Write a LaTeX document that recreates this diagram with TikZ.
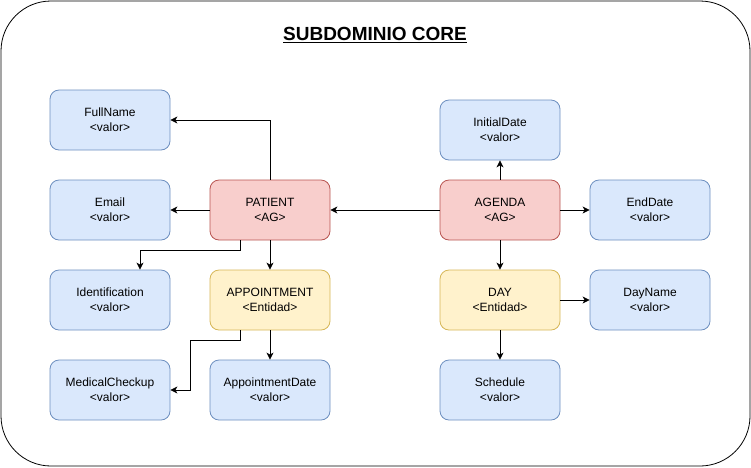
\documentclass[tikz,border=0pt]{standalone}
\usepackage{fontspec}
\setmainfont{Liberation Sans}
\usetikzlibrary{arrows.meta}

\definecolor{valfill}{HTML}{DAE8FC}
\definecolor{valline}{HTML}{6C8EBF}
\definecolor{agfill}{HTML}{F8CECC}
\definecolor{agline}{HTML}{B85450}
\definecolor{entfill}{HTML}{FFF2CC}
\definecolor{entline}{HTML}{D6B656}

\tikzset{
    box/.style = {draw, rounded corners = 9pt, minimum width = 120pt, minimum height = 60pt,
        inner sep = 0pt, align = center, line width = 0.8pt,
        font = \fontsize{12}{15}\selectfont},
    valor/.style = {box, fill = valfill, draw = valline},
    aggregate/.style = {box, fill = agfill, draw = agline},
    entity/.style = {box, fill = entfill, draw = entline},
    link/.style = {-{Stealth[length = 7pt, width = 7pt, inset = 2pt]}, line width = 0.8pt},
}

\begin{document}
\begin{tikzpicture}[x = 1pt, y = -1pt]
    \useasboundingbox (0,0) rectangle (751,467);
    \draw[rounded corners = 50pt, line width = 0.8pt] (1,1) rectangle (750,466);
    \node[font = \fontsize{19}{21}\selectfont\bfseries] (title) at (375,35) {\underline{SUBDOMINIO CORE}};

    % left side
    \node[valor] (fullname) at (110,120) {FullName\\<valor>};
    \node[valor] (email) at (110,210) {Email\\<valor>};
    \node[valor] (identification) at (110,300) {Identification\\<valor>};
    \node[valor] (medical) at (110,390) {MedicalCheckup\\<valor>};
    \node[aggregate] (patient) at (270,210) {PATIENT\\<AG>};
    \node[entity] (appointment) at (270,300) {APPOINTMENT\\<Entidad>};
    \node[valor] (appdate) at (270,390) {AppointmentDate\\<valor>};

    % right side
    \node[valor] (initial) at (500,130) {InitialDate\\<valor>};
    \node[aggregate] (agenda) at (500,210) {AGENDA\\<AG>};
    \node[valor] (enddate) at (650,210) {EndDate\\<valor>};
    \node[entity] (day) at (500,300) {DAY\\<Entidad>};
    \node[valor] (dayname) at (650,300) {DayName\\<valor>};
    \node[valor] (schedule) at (500,390) {Schedule\\<valor>};

    % connectors
    \draw[link] (patient.north) |- (fullname.east);
    \draw[link] (patient.west) -- (email.east);
    \draw[link] ([xshift = -30pt]patient.south) -- ++(0,10) -| ([xshift = 30pt]identification.north);
    \draw[link] (patient.south) -- (appointment.north);
    \draw[link] ([xshift = -30pt]appointment.south) -- ++(0,10) -- ++(-50,0) |- (medical.east);
    \draw[link] (appointment.south) -- (appdate.north);
    \draw[link] (agenda.west) -- (patient.east);
    \draw[link] (agenda.north) -- (initial.south);
    \draw[link] (agenda.east) -- (enddate.west);
    \draw[link] (agenda.south) -- (day.north);
    \draw[link] (day.east) -- (dayname.west);
    \draw[link] (day.south) -- (schedule.north);
\end{tikzpicture}
\end{document}
